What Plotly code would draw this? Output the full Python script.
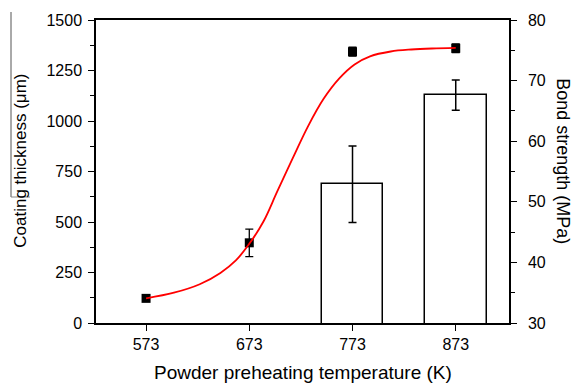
import plotly.graph_objects as go

# Data
temps = [573, 673, 773, 873]
thickness = [122, 397, 1343, 1360]
thickness_err = [12, 68, 22, 22]

bar_temps = [773, 873]
bond = [52.9, 67.6]
bond_err = [6.3, 2.5]

fit_x = [573, 600, 625, 645, 660, 673, 687, 700, 715, 730, 745, 760, 775, 790, 810, 830, 850, 873]
fit_y = [122, 150, 192, 248, 310, 392, 505, 650, 815, 975, 1110, 1210, 1280, 1320, 1344, 1354, 1359, 1362]

x_ticks = [573, 673, 773, 873]

FONT = "Arial, Liberation Sans, sans-serif"

fig = go.Figure()

fig.add_trace(go.Bar(
    x=bar_temps, y=bond, width=60, yaxis="y2",
    marker=dict(color="white", line=dict(color="black", width=1.5)),
    error_y=dict(type="data", array=bond_err, color="black", thickness=1.5, width=4),
    showlegend=False,
))

fig.add_trace(go.Scatter(
    x=temps, y=thickness, mode="markers",
    marker=dict(symbol="square", size=9, color="black"),
    error_y=dict(type="data", array=thickness_err, color="black", thickness=1.3, width=4),
    showlegend=False,
))

fig.add_trace(go.Scatter(
    x=fit_x, y=fit_y, mode="lines",
    line=dict(color="red", width=1.8, shape="spline", smoothing=1),
    showlegend=False,
))

fig.update_layout(
    width=578, height=385,
    margin=dict(l=96, r=69, t=20, b=62),
    plot_bgcolor="white", paper_bgcolor="white",
    font=dict(family=FONT, size=16, color="black"),
    bargap=0,
    xaxis=dict(
        range=[524.5, 924.6], tickvals=x_ticks, ticktext=[str(t) for t in x_ticks],
        showline=True, linecolor="black", linewidth=1.5, mirror=True,
        ticks="outside", ticklen=6, tickwidth=1.3, tickcolor="black",
        showgrid=False, zeroline=False,
        tickfont=dict(size=16),
    ),
    yaxis=dict(
        range=[0, 1500], dtick=250, tick0=0,
        showline=True, linecolor="black", linewidth=1.5,
        ticks="outside", ticklen=6, tickwidth=1.3, tickcolor="black",
        minor=dict(dtick=125, ticks="outside", ticklen=4, tickcolor="black", tickwidth=1.2),
        showgrid=False, zeroline=False,
        tickfont=dict(size=16), ticklabelstandoff=3,
    ),
    yaxis2=dict(
        range=[30, 80], dtick=10, tick0=30, overlaying="y", side="right",
        showline=True, linecolor="black", linewidth=1.5,
        ticks="outside", ticklen=6, tickwidth=1.3, tickcolor="black",
        minor=dict(dtick=5, ticks="outside", ticklen=4, tickcolor="black", tickwidth=1.2),
        showgrid=False, zeroline=False,
        tickfont=dict(size=16), ticklabelstandoff=8,
    ),
    annotations=[
        dict(text="Powder preheating temperature (K)", xref="paper", yref="paper",
             x=0.5, y=-0.165, yanchor="middle", showarrow=False, font=dict(size=19)),
        dict(text="Coating thickness (μm)", xref="paper", yref="paper",
             x=-0.182, y=0.535, textangle=-90, xanchor="center", yanchor="middle",
             showarrow=False, font=dict(size=17)),
        dict(text="Bond strength (MPa)", xref="paper", yref="paper",
             x=1.13, y=0.535, textangle=90, xanchor="center", yanchor="middle",
             showarrow=False, font=dict(size=18)),
    ],
    shapes=[
        dict(type="line", xref="paper", yref="paper", x0=-0.2058, x1=-0.2058, y0=1.0264, y1=0.4158,
             line=dict(color="#555", width=1)),
        dict(type="line", xref="paper", yref="paper", x0=-0.2058, x1=-0.1598, y0=0.4158, y1=0.4158,
             line=dict(color="#888", width=1)),
    ],
)

fig.write_html("out.html")
